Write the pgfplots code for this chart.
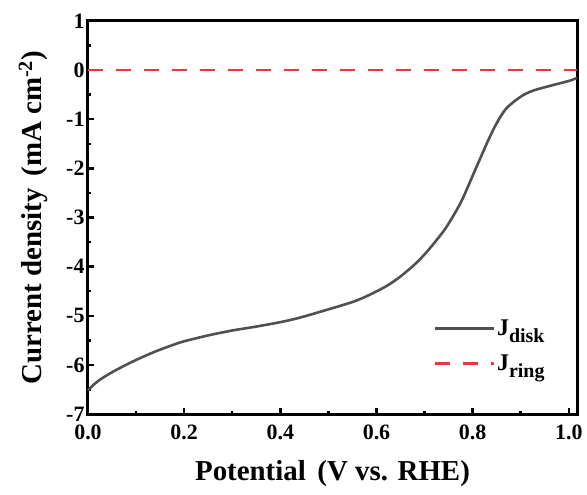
\documentclass[border=0pt]{standalone}
\usepackage{fontspec}
\setmainfont{Liberation Serif}
\usepackage{pgfplots}
\pgfplotsset{compat=1.18}
\definecolor{diskgray}{HTML}{505050}
\definecolor{ringred}{HTML}{E8383D}

\begin{document}
\begin{tikzpicture}
\begin{axis}[
    scale only axis,
    width=489bp, height=393bp,
    xmin=0, xmax=1.017,
    ymin=-7, ymax=1,
    xtick={0,0.2,...,1.0},
    ytick={-7,-6,...,1},
    minor x tick num=1,
    minor y tick num=1,
    tick pos=left,
    xtick align=inside, ytick align=inside,
    major tick length=6bp,
    minor tick length=3.5bp,
    every tick/.style={black, line width=2.5bp},
    axis line style={line width=3bp},
    clip=false,
    /pgf/number format/assume math mode=true,
    xticklabel style={/pgf/number format/.cd, fixed, fixed zerofill, precision=1, /tikz/.cd, yshift=-7bp},
    yticklabel style={/pgf/number format/.cd, fixed, precision=0},
    ticklabel style={font=\fontsize{22}{22}\selectfont\bfseries},
    xlabel={Potential\hspace{0.4em}(V vs. RHE)},
    ylabel={Current density\hspace{0.4em}(mA cm\textsuperscript{-2})},
    label style={font=\fontsize{29}{29}\selectfont\bfseries},
    xlabel style={yshift=-14bp},
    ylabel style={yshift=12bp},
    legend style={draw=none, fill=none, at={(rel axis cs:0.7,0.25)}, anchor=north west,
        font=\fontsize{24}{24}\selectfont\bfseries, row sep=14bp,
        /tikz/every even column/.append style={column sep=2bp}},
    legend cell align=left,
    legend image code/.code={\draw[#1] (0bp,0bp) -- (59bp,0bp);},
]
\addplot[diskgray, line width=2.6bp, smooth] coordinates {
    (0.000,-6.52) (0.010,-6.42) (0.025,-6.30) (0.050,-6.15) (0.075,-6.02)
    (0.100,-5.90) (0.125,-5.79) (0.150,-5.69) (0.175,-5.60) (0.200,-5.52)
    (0.250,-5.40) (0.300,-5.30) (0.350,-5.22) (0.400,-5.13) (0.440,-5.04)
    (0.500,-4.87) (0.550,-4.72) (0.580,-4.60) (0.620,-4.40) (0.650,-4.20)
    (0.680,-3.95) (0.700,-3.75) (0.720,-3.52) (0.745,-3.20) (0.775,-2.70)
    (0.800,-2.15) (0.830,-1.48) (0.850,-1.08) (0.870,-0.78) (0.900,-0.54)
    (0.925,-0.42) (0.965,-0.31) (1.000,-0.22) (1.017,-0.16)
};
\addlegendentry{J\raisebox{-0.3em}{\fontsize{20}{20}\selectfont disk}}
\addplot[ringred, line width=2.4bp, dash pattern=on 15bp off 13bp] coordinates {
    (0,0) (1.017,0)
};
\addlegendentry{J\raisebox{-0.3em}{\fontsize{20}{20}\selectfont ring}}
\path (rel axis cs:0,0) ++(-88bp,-81bp) rectangle ++(587bp,495bp);
\end{axis}
\end{tikzpicture}
\end{document}
